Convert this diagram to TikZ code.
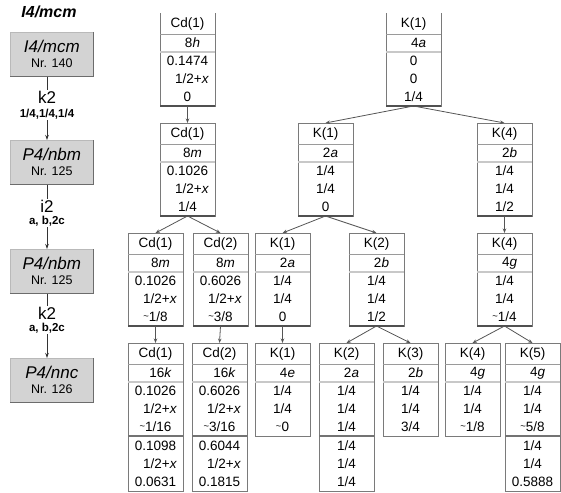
\documentclass[tikz,border=0pt]{standalone}
\usepackage{fontspec}
\setmainfont{Liberation Sans}
\usetikzlibrary{arrows.meta,calc}

\definecolor{boxgray}{HTML}{7A7A7A}
\definecolor{sepgray}{HTML}{9A9A9A}
\definecolor{seplight}{HTML}{C8C8C8}
\definecolor{darkline}{HTML}{505050}
\definecolor{arrgray}{HTML}{555555}
\definecolor{grpfill}{HTML}{D3D3D3}

\tikzset{
  sitenode/.style={draw=boxgray, line width=0.6pt, minimum width=55pt, minimum height=93pt, anchor=north west, inner sep=0pt, outer sep=0pt},
  extnode/.style={draw=boxgray, line width=0.6pt, minimum width=55pt, minimum height=55pt, anchor=north, inner sep=0pt, outer sep=0pt},
  sepA/.style={draw=sepgray, line width=0.5pt},
  sepB/.style={draw=seplight, line width=1.4pt},
  sepC/.style={draw=darkline!80, line width=1.8pt},
  botthick/.style={draw=darkline, line width=1.6pt},
  txt/.style={font=\fontsize{13.5}{13.5}\selectfont, inner sep=0pt},
  sarr/.style={draw=arrgray, line width=0.8pt, -{Stealth[length=4.5pt,width=3.5pt]}},
  grp/.style={draw=gray!55, fill=grpfill, line width=0.6pt, minimum width=83pt, minimum height=44pt, anchor=north west, inner sep=0pt},
  grptxt/.style={font=\fontsize{17}{17}\selectfont\itshape, inner sep=0pt},
  nrtxt/.style={font=\fontsize{12.5}{12.5}\selectfont, inner sep=0pt},
  steplab/.style={font=\fontsize{17}{17}\selectfont, inner sep=1pt},
  subllab/.style={font=\fontsize{11.5}{11.5}\selectfont\bfseries, inner sep=1pt},
  garr/.style={draw=black!80, line width=0.8pt},
}

\newcommand\hx{\hspace*{9pt}1/2+\textit{x}}
\newcommand\tl{\raisebox{0.3ex}{\scalebox{0.7}{\textasciitilde}}}

\newcommand\site[8]{%
  \node[sitenode] (#1) at (#2,#3) {};
  \draw[sepA] ($(#1.north west)+(0,21)$) -- ($(#1.north east)+(0,21)$);
  \draw[sepB] ($(#1.north west)+(0.3,39)$) -- ($(#1.north east)+(-0.3,39)$);
  \node[txt] at ($(#1.north)+(0,11)$) {#4};
  \node[txt] at ($(#1.north)+(5,30)$) {#5};
  \node[txt] at ($(#1.north)+(0,48)$) {#6};
  \node[txt] at ($(#1.north)+(0,66)$) {#7};
  \node[txt] at ($(#1.north)+(0,84)$) {#8};
}
\newcommand\siteext[4]{%
  \node[extnode] (#1x) at (#1.south) {};
  \draw[sepC] (#1.south west) -- (#1.south east);
  \node[txt] at ($(#1x.north)+(0,10)$) {#2};
  \node[txt] at ($(#1x.north)+(0,28)$) {#3};
  \node[txt] at ($(#1x.north)+(0,46)$) {#4};
}
\newcommand\thickbottom[1]{\draw[botthick] (#1.south west) -- (#1.south east);}
\newcommand\opentop[1]{\draw[white, line width=1.2pt] ($(#1.north west)+(0.5,0)$) -- ($(#1.north east)+(-0.5,0)$);}

\begin{document}
\begin{tikzpicture}[x=1pt,y=-1pt]
\useasboundingbox (0,0) rectangle (561,492);

% ---------- left column: group chain ----------
\node[font=\fontsize{16}{16}\selectfont\bfseries\itshape, inner sep=0pt] (title) at (49,12) {I4/mcm};

\node[grp] (g1) at (10,32) {};
\node[grp] (g2) at (10,140) {};
\node[grp] (g3) at (10,249) {};
\node[grp] (g4) at (10,358) {};
\foreach \g/\n/\r in {g1/I4\slash mcm/Nr. 140, g2/P4\slash nbm/Nr. 125, g3/P4\slash nbm/Nr. 125, g4/P4\slash nnc/Nr. 126}{
  \draw[draw=gray!85!black, line width=0.8pt] (\g.north east) -- (\g.south east) -- (\g.south west);
  \node[grptxt] at ($(\g.north)+(0,14)$) {\n};
  \node[nrtxt] at ($(\g.north)+(0,31)$) {\r};
}

\node[steplab] (s1) at (47,97) {k2};
\node[subllab] (s1b) at (47,114) {1/4,1/4,1/4};
\node[steplab] (s2) at (47,206) {i2};
\node[subllab] (s2b) at (47,221) {a, b,2c};
\node[steplab] (s3) at (47,313) {k2};
\node[subllab] (s3b) at (47,328) {a, b,2c};

\draw[garr] (g1.south -| s1.north) -- (s1.north);
\draw[garr,-{Stealth[length=5pt,width=3.5pt]}] (s1b.south) -- (g2.north -| s1b.south);
\draw[garr] (g2.south -| s2.north) -- (s2.north);
\draw[garr,-{Stealth[length=5pt,width=3.5pt]}] (s2b.south) -- (g3.north -| s2b.south);
\draw[garr] (g3.south -| s3.north) -- (s3.north);
\draw[garr,-{Stealth[length=5pt,width=3.5pt]}] (s3b.south) -- (g4.north -| s3b.south);

% ---------- row 1 ----------
\site{cda}{160}{13}{Cd(1)}{8\textit{h}}{0.1474}{\hx}{0}
\site{ka}{386}{13}{K(1)}{4\textit{a}}{0}{0}{1/4}
\opentop{cda}\opentop{ka}
\thickbottom{cda}\thickbottom{ka}

% ---------- row 2 ----------
\site{cdb}{160}{123}{Cd(1)}{8\textit{m}}{0.1026}{\hx}{1/4}
\site{kb}{298}{123}{K(1)}{2\textit{a}}{1/4}{1/4}{0}
\site{kfb}{477}{123}{K(4)}{2\textit{b}}{1/4}{1/4}{1/2}
\thickbottom{cdb}\thickbottom{kb}\thickbottom{kfb}

% ---------- row 3 ----------
\site{cdc}{128}{233}{Cd(1)}{8\textit{m}}{0.1026}{\hx}{\tl1/8}
\site{cdtc}{193}{233}{Cd(2)}{8\textit{m}}{0.6026}{\hx}{\tl3/8}
\site{kc}{255}{233}{K(1)}{2\textit{a}}{1/4}{1/4}{0}
\site{ktc}{349}{233}{K(2)}{2\textit{b}}{1/4}{1/4}{1/2}
\site{kfc}{477}{233}{K(4)}{4\textit{g}}{1/4}{1/4}{\tl1/4}
\thickbottom{cdc}\thickbottom{cdtc}\thickbottom{kc}\thickbottom{ktc}\thickbottom{kfc}

% ---------- row 4 ----------
\site{cdd}{128}{343}{Cd(1)}{16\textit{k}}{0.1026}{\hx}{\tl1/16}
\siteext{cdd}{0.1098}{\hx}{0.0631}
\site{cdtd}{192}{343}{Cd(2)}{16\textit{k}}{0.6026}{\hx}{\tl3/16}
\siteext{cdtd}{0.6044}{\hx}{0.1815}
\site{kd}{255}{343}{K(1)}{4\textit{e}}{1/4}{1/4}{\tl0}
\site{ktd}{319}{343}{K(2)}{2\textit{a}}{1/4}{1/4}{1/4}
\siteext{ktd}{1/4}{1/4}{1/4}
\site{kthd}{383}{343}{K(3)}{2\textit{b}}{1/4}{1/4}{3/4}
\site{kfd}{445}{343}{K(4)}{4\textit{g}}{1/4}{1/4}{\tl1/8}
\site{kfvd}{505}{343}{K(5)}{4\textit{g}}{1/4}{1/4}{\tl5/8}
\siteext{kfvd}{1/4}{1/4}{0.5888}

% ---------- arrows ----------
\draw[sarr] (cda.south) -- (cdb.north);
\draw[sarr] (cdb.south) -- (cdc.north);
\draw[sarr] (cdb.south) -- (cdtc.north);
\draw[sarr] (cdc.south) -- (cdd.north);
\draw[sarr] (cdtc.south) -- (cdtd.north);
\draw[sarr] (ka.south) -- (kb.north);
\draw[sarr] (ka.south) -- (kfb.north);
\draw[sarr] (kb.south) -- (kc.north);
\draw[sarr] (kb.south) -- (ktc.north);
\draw[sarr] (kc.south) -- (kd.north);
\draw[sarr] (ktc.south) -- (ktd.north);
\draw[sarr] (ktc.south) -- (kthd.north);
\draw[sarr] (kfb.south) -- (kfc.north);
\draw[sarr] (kfc.south) -- (kfd.north);
\draw[sarr] (kfc.south) -- (kfvd.north);
\end{tikzpicture}
\end{document}
